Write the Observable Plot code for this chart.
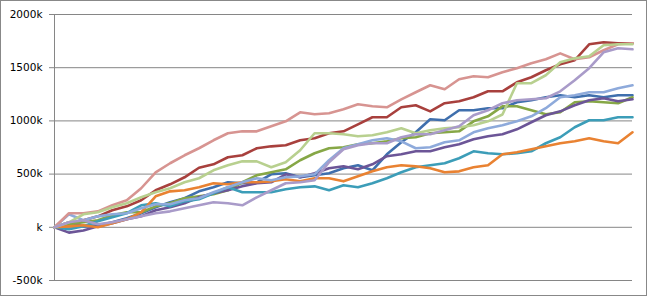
<!DOCTYPE html>
<html><head><meta charset="utf-8">
<script src="https://cdn.jsdelivr.net/npm/d3@7"></script>
<script src="https://cdn.jsdelivr.net/npm/@observablehq/plot@0.6"></script>
<style>
html,body{margin:0;padding:0;background:#fff;}
#chart svg{display:block;outline:1px solid #888888;outline-offset:-1px;}
</style></head><body><div id="chart"></div>
<script>
const steps = d3.range(41);
const seriesNames = ["S1","S2","S3","S4","S5","S6","S7","S8","S9","S10"];
const seriesColors = ["#3F6FAD","#A8403D","#86A746","#6C5597","#3C9DB8","#E98232","#8EAADB","#D79491","#B8D08F","#A99BC9"];
const yTicks = [-500, 0, 500, 1000, 1500, 2000];
const yTickLabels = ["-500k","k","500k","1000k","1500k","2000k"];

const blue = [0,47,9,19,47,85,132,188,235,273,338,376,423,414,423,498,508,470,489,508,555,583,536,686,799,893,1015,1006,1100,1100,1119,1119,1175,1194,1222,1241,1222,1241,1222,1241,1241];
const red = [0,28,66,103,160,197,254,348,404,470,560,592,658,677,743,761,771,818,837,884,902,968,1034,1034,1128,1147,1090,1166,1184,1222,1278,1278,1363,1410,1476,1532,1570,1720,1739,1730,1730];
const green = [0,28,47,66,113,141,141,197,226,273,291,310,348,423,489,517,545,630,696,743,752,780,790,808,837,846,884,893,902,996,1043,1137,1137,1100,1062,1081,1175,1184,1175,1166,1222];
const purple = [0,-50,-30,9,38,75,103,160,188,226,282,320,348,385,414,423,498,470,508,555,574,545,592,668,686,715,715,752,780,827,855,874,921,987,1053,1090,1147,1194,1213,1184,1203];
const teal = [0,-19,9,56,94,132,207,226,197,244,263,320,376,329,329,329,357,376,385,348,395,376,414,461,517,564,583,602,649,714,696,686,696,714,790,846,940,1006,1006,1034,1034];
const orange = [0,9,19,0,38,75,141,291,338,348,376,414,404,423,423,432,451,432,461,461,432,479,526,564,583,573,555,517,526,564,583,686,705,733,761,790,808,837,808,790,893];
const lightBlue = [0,122,66,103,122,132,179,216,216,254,273,329,376,423,461,442,470,479,498,630,743,780,818,837,808,743,752,799,818,893,931,959,996,1043,1119,1222,1241,1269,1269,1307,1335];
const pink = [0,132,132,150,207,254,367,517,602,677,743,818,884,902,902,949,996,1081,1062,1072,1109,1156,1137,1128,1203,1269,1335,1297,1391,1419,1410,1457,1495,1542,1579,1635,1579,1598,1664,1720,1730];
const lightGreen = [0,47,122,141,188,226,282,329,367,423,461,536,583,620,620,564,611,724,884,884,874,855,865,893,931,884,912,931,940,959,996,1060,1354,1354,1429,1551,1589,1607,1711,1720,1720];
const lavender = [0,47,66,28,47,75,103,132,150,179,207,235,226,207,282,348,414,423,442,611,733,771,790,790,846,874,874,912,949,1053,1100,1166,1194,1203,1213,1278,1382,1495,1645,1683,1673];

const allSeries = [blue, red, green, purple, teal, orange, lightBlue, pink, lightGreen, lavender];
const data = allSeries.flatMap((vals, i) => vals.map((v, j) => ({step: steps[j], value: v, series: seriesNames[i]})));
const labelOf = new Map(yTicks.map((t, i) => [t, yTickLabels[i]]));

const chart = Plot.plot({
  width: 647, height: 296,
  marginLeft: 54, marginRight: 15, marginTop: 14, marginBottom: 16,
  x: {domain: [0, 40], axis: null},
  y: {domain: [-500, 2000], axis: null},
  color: {domain: seriesNames, range: seriesColors},
  style: {fontFamily: "'DejaVu Sans', Verdana, sans-serif", fontSize: "10.5px", color: "#000", background: "#fff"},
  marks: [
    Plot.gridY(yTicks, {stroke: "#868686", strokeOpacity: 1, strokeWidth: 1}),
    Plot.axisY(yTicks, {tickSize: 5, tickPadding: 7, stroke: "#868686", strokeOpacity: 1, tickFormat: d => labelOf.get(d), fill: "#000", label: null}),
    Plot.ruleX([0], {stroke: "#868686", strokeWidth: 1}),
    Plot.line(data, {x: "step", y: "value", z: "series", stroke: "series", strokeWidth: 2.6, strokeLinejoin: "round", curve: "linear"})
  ]
});
document.getElementById("chart").append(chart);
</script>
</body></html>
